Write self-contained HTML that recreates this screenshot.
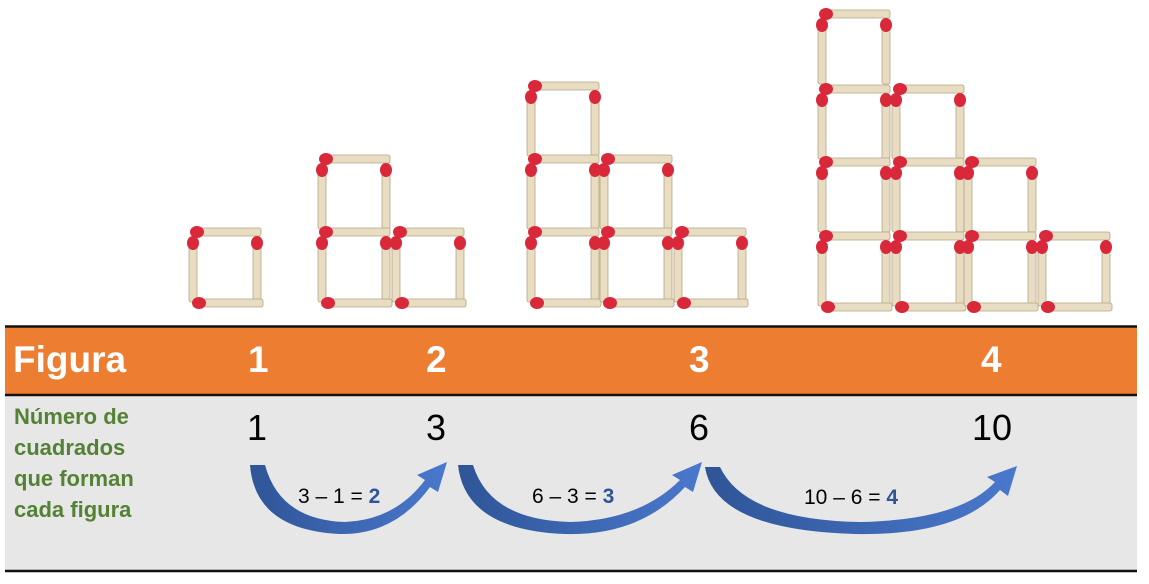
<!DOCTYPE html>
<html><head><meta charset="utf-8"><style>
html,body{margin:0;padding:0;background:#fff;width:1149px;height:584px;overflow:hidden}
svg{display:block}
text{font-family:"Liberation Sans",sans-serif}
</style></head><body>
<svg width="1149" height="584" viewBox="0 0 1149 584" xmlns="http://www.w3.org/2000/svg">
<defs>
<linearGradient id="ag" x1="0" y1="0" x2="1" y2="0">
<stop offset="0" stop-color="#2f5597"/><stop offset="1" stop-color="#4a78cc"/>
</linearGradient>
<g id="h"><rect x="8" y="0" width="66" height="8" rx="2" fill="#e8dcc2" stroke="#b5a584" stroke-width="0.8"/><ellipse cx="10" cy="4" rx="7" ry="6" fill="#d9283a"/></g>
<g id="v"><rect x="0" y="8" width="8" height="62" rx="2" fill="#e8dcc2" stroke="#b5a584" stroke-width="0.8"/><ellipse cx="4" cy="11" rx="6" ry="7" fill="#d9283a"/></g>
<g id="cell"><use href="#h" x="0" y="0"/><use href="#v" x="2" y="4"/><use href="#v" x="66" y="4"/></g>
<g id="bot"><use href="#h" x="2" y="71"/></g>
</defs>

<use href="#cell" x="187" y="228"/><use href="#bot" x="187" y="228"/>
<use href="#cell" x="316" y="155"/>
<use href="#cell" x="316" y="228"/><use href="#bot" x="316" y="228"/>
<use href="#cell" x="390" y="228"/><use href="#bot" x="390" y="228"/>
<use href="#cell" x="525" y="82"/>
<use href="#cell" x="525" y="155"/><use href="#cell" x="598" y="155"/>
<use href="#cell" x="525" y="228"/><use href="#bot" x="525" y="228"/>
<use href="#cell" x="598" y="228"/><use href="#bot" x="598" y="228"/>
<use href="#cell" x="672" y="228"/><use href="#bot" x="672" y="228"/>
<use href="#cell" x="816" y="10"/>
<use href="#cell" x="816" y="85"/><use href="#cell" x="890" y="85"/>
<use href="#cell" x="816" y="158"/><use href="#cell" x="890" y="158"/><use href="#cell" x="962" y="158"/>
<use href="#cell" x="816" y="232"/><use href="#bot" x="816" y="232"/>
<use href="#cell" x="890" y="232"/><use href="#bot" x="890" y="232"/>
<use href="#cell" x="962" y="232"/><use href="#bot" x="962" y="232"/>
<use href="#cell" x="1036" y="232"/><use href="#bot" x="1036" y="232"/>

<rect x="5" y="327" width="1132" height="67" fill="#ed7d31"/>
<rect x="5" y="396" width="1132" height="175" fill="#e7e7e7"/>
<line x1="5" y1="326.5" x2="1137" y2="326.5" stroke="#111" stroke-width="2.5"/>
<line x1="5" y1="395" x2="1137" y2="395" stroke="#111" stroke-width="2.5"/>
<line x1="5" y1="571" x2="1137" y2="571" stroke="#111" stroke-width="2.5"/>

<g font-weight="bold" fill="#fff" font-size="37">
<text x="13" y="372">Figura</text>
<text x="248" y="372">1</text>
<text x="426" y="372">2</text>
<text x="689" y="372">3</text>
<text x="981" y="372">4</text>
</g>
<g font-weight="bold" fill="#548235" font-size="22">
<text x="14" y="424">Número de</text>
<text x="14" y="455">cuadrados</text>
<text x="14" y="486">que forman</text>
<text x="14" y="517">cada figura</text>
</g>
<g fill="#000" font-size="36">
<text x="247" y="440">1</text>
<text x="426" y="440">3</text>
<text x="689" y="440">6</text>
<text x="972" y="440">10</text>
</g>

<path d="M250,465 L265,465 Q280,520 345,522 Q395,520 425,480 L417,475 L447,462 L438,492 L430,487 Q395,535 340,534 Q255,530 250,465 Z" fill="url(#ag)"/>
<path d="M458,465 L473,465 Q490,520 570,522 Q640,520 680,480 L672,475 L702,462 L693,492 L685,487 Q640,536 565,534 Q465,530 458,465 Z" fill="url(#ag)"/>
<path d="M705,467 L720,467 Q745,520 860,522 Q960,520 995,482 L987,477 L1017,466 L1008,496 L1000,490 Q960,536 855,534 Q715,530 705,467 Z" fill="url(#ag)"/>

<g font-size="21" fill="#000">
<text x="298" y="503">3 – 1 = <tspan fill="#2f5597" font-weight="bold">2</tspan></text>
<text x="532" y="503">6 – 3 = <tspan fill="#2f5597" font-weight="bold">3</tspan></text>
<text x="804" y="504">10 – 6 = <tspan fill="#2f5597" font-weight="bold">4</tspan></text>
</g>
</svg>
</body></html>
